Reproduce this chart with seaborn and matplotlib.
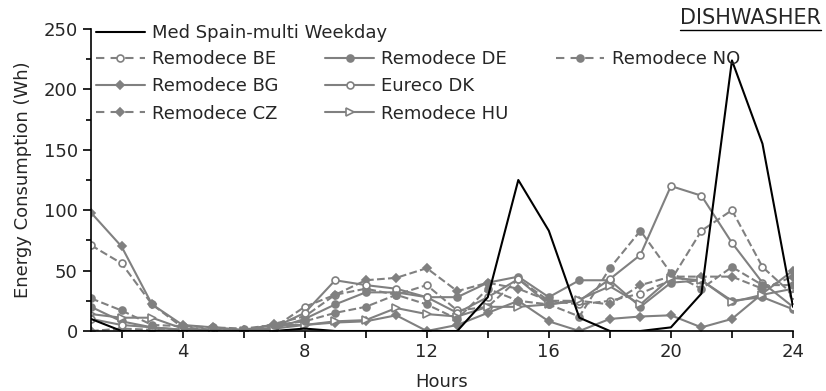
import numpy as np
import pandas as pd
import matplotlib
matplotlib.use("Agg")
import matplotlib.pyplot as plt
from matplotlib.lines import Line2D
import seaborn as sns

hours = list(range(1, 25))

med_spain = [10, 0, 0, 0, 0, 0, 0, 2, 0, 0, 0, 0, 0, 28, 125, 83, 11, 0, 0, 3, 31, 224, 155, 20]
remodece_be = [71, 56, 22, 3, 1, 0, 3, 20, 30, 35, 30, 38, 17, 20, 43, 25, 22, 25, 31, 42, 83, 100, 53, 30]
remodece_bg = [98, 70, 22, 5, 3, 1, 5, 5, 7, 8, 13, 0, 5, 15, 25, 8, 0, 10, 12, 13, 3, 10, 31, 50]
remodece_cz = [0, 2, 1, 0, 0, 0, 6, 12, 30, 42, 44, 52, 33, 40, 35, 25, 25, 22, 38, 45, 45, 45, 35, 45]
remodece_de = [20, 8, 3, 1, 0, 0, 2, 10, 22, 32, 32, 28, 28, 40, 45, 28, 42, 42, 20, 40, 42, 25, 28, 18]
eureco_dk = [10, 5, 3, 1, 0, 0, 3, 15, 42, 38, 35, 28, 15, 28, 43, 22, 25, 43, 63, 120, 112, 73, 40, 20]
remodece_hu = [14, 11, 11, 2, 1, 0, 2, 5, 8, 9, 19, 14, 12, 20, 20, 22, 26, 37, 22, 44, 42, 24, 30, 35]
remodece_no = [27, 17, 5, 4, 3, 2, 5, 8, 15, 20, 30, 22, 10, 35, 25, 22, 12, 52, 83, 48, 35, 53, 38, 38]

sns.set_theme(style="ticks")
plt.rcParams['font.family'] = ['DejaVu Sans']

FS = 13

fig = plt.figure(figsize=(8.26, 3.91), dpi=100)
ax = fig.add_axes([91 / 826, 60 / 391, (793 - 91) / 826, (331 - 29) / 391])

gray = "#808080"
dash = (4, 3)

series = [
    ("Remodece BE", remodece_be, dict(linestyle="--", dashes=dash, marker="o", mfc="white", mec=gray, ms=5)),
    ("Remodece BG", remodece_bg, dict(linestyle="-", marker="D", mfc=gray, mec=gray, ms=4.5)),
    ("Remodece CZ", remodece_cz, dict(linestyle="--", dashes=dash, marker="D", mfc=gray, mec=gray, ms=4.5)),
    ("Remodece DE", remodece_de, dict(linestyle="-", marker="o", mfc=gray, mec=gray, ms=5)),
    ("Eureco DK", eureco_dk, dict(linestyle="-", marker="o", mfc="white", mec=gray, ms=5)),
    ("Remodece HU", remodece_hu, dict(linestyle="-", marker=">", mfc="white", mec=gray, ms=5.5)),
    ("Remodece NO", remodece_no, dict(linestyle="--", dashes=dash, marker="o", mfc=gray, mec=gray, ms=5)),
]

handles2 = []
for name, vals, kw in series:
    df = pd.DataFrame({"Hours": hours, "Wh": vals})
    sns.lineplot(data=df, x="Hours", y="Wh", ax=ax, color=gray, lw=1.5,
                 mew=1.2, zorder=2, legend=False, **kw)
    handles2.append(Line2D([], [], color=gray, lw=1.5, mew=1.2, label=name, **kw))
# two invisible entries so the 3-column legend fills 3 / 3 / 1
handles2 += [Line2D([], [], color="none", label=" "), Line2D([], [], color="none", label=" ")]

df = pd.DataFrame({"Hours": hours, "Wh": med_spain})
sns.lineplot(data=df, x="Hours", y="Wh", ax=ax, color="black", lw=1.5, zorder=3, legend=False)
h_med = Line2D([], [], color="black", lw=1.5, label="Med Spain-multi Weekday")

ax.set_xlim(1, 24)
ax.set_ylim(0, 250)
ax.set_xticks([4, 8, 12, 16, 20, 24])
ax.set_xticks([2, 6, 10, 14, 18, 22], minor=True)
ax.set_yticks([0, 50, 100, 150, 200, 250])
ax.set_yticks([25, 75, 125, 175, 225], minor=True)
ax.tick_params(axis="both", which="both", direction="out", labelsize=FS, color="black", width=1.2)
ax.tick_params(axis="y", which="major", length=6)
ax.tick_params(axis="y", which="minor", length=3.5)
ax.tick_params(axis="x", which="both", length=5)
ax.set_xlabel("Hours", fontsize=FS, labelpad=9)
ax.set_ylabel("Energy Consumption (Wh)", fontsize=FS, labelpad=8)
sns.despine(ax=ax)
for s in ["left", "bottom"]:
    ax.spines[s].set_color("black")
    ax.spines[s].set_linewidth(1.2)
ax.set_facecolor("white")

leg1 = ax.legend(handles=[h_med], loc="upper left", bbox_to_anchor=(96 / 826, 1 - 24 / 391),
                 bbox_transform=fig.transFigure,
                 frameon=False, fontsize=FS, handlelength=2.7, handletextpad=0.4,
                 borderpad=0, borderaxespad=0)
ax.add_artist(leg1)
leg2 = ax.legend(handles=handles2, loc="upper left", bbox_to_anchor=(96 / 826, 1 - 50 / 391),
                 bbox_transform=fig.transFigure,
                 ncol=3, frameon=False, fontsize=FS, handlelength=2.7, handletextpad=0.4,
                 borderpad=0, borderaxespad=0, columnspacing=2.6, labelspacing=0.52)

t = fig.text(821 / 826, 1 - 18 / 391, "DISHWASHER", ha="right", va="center", fontsize=15)
fig.canvas.draw()
bb = t.get_window_extent().transformed(fig.transFigure.inverted())
fig.add_artist(Line2D([bb.x0, bb.x1], [bb.y0 - 0.004, bb.y0 - 0.004], color="black", lw=1.0,
                      transform=fig.transFigure))

fig.savefig("out.png", dpi=100, facecolor="white")
